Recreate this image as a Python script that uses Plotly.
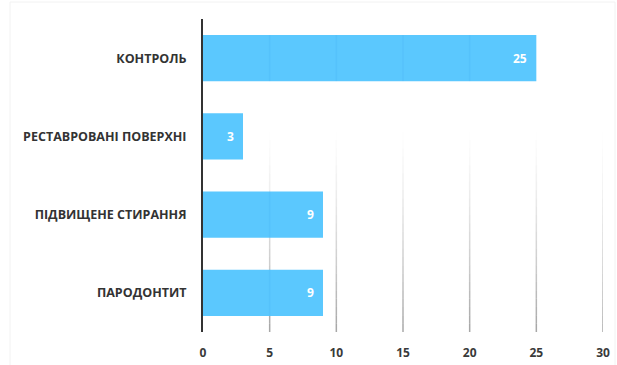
import plotly.graph_objects as go

# Chart data
categories = ["КОНТРОЛЬ", "РЕСТАВРОВАНІ ПОВЕРХНІ", "ПІДВИЩЕНЕ СТИРАННЯ", "ПАРОДОНТИТ"]
values = [25, 3, 9, 9]
x_ticks = [0, 5, 10, 15, 20, 25, 30]

BAR_COLOR = "#5BC8FE"
BAR_GAP = 0.41

fig = go.Figure()
fig.add_trace(go.Bar(
    y=categories,
    x=values,
    orientation="h",
    marker=dict(color=BAR_COLOR, line=dict(width=0)),
    hoverinfo="skip",
))

# Value labels at the inner end of each bar
annotations = []
for cat, v in zip(categories, values):
    annotations.append(dict(
        x=v, y=cat, xref="x", yref="y",
        text=f"<b>{v}</b>", showarrow=False,
        xanchor="right", xshift=-7,
        font=dict(family="Open Sans", size=12, color="white"),
    ))

# Vertical gridlines that fade out toward the top
shapes = []
n_seg = 24
fade_top = 0.64  # fraction of plot height where the lines vanish
for t in x_ticks[1:]:
    for i in range(n_seg):
        y0 = fade_top * i / n_seg
        y1 = fade_top * (i + 1) / n_seg
        a = 0.6 * (1 - i / n_seg) ** 1.4
        shapes.append(dict(
            type="line", xref="x", yref="paper",
            x0=t, x1=t, y0=y0, y1=y1,
            line=dict(color=f"rgba(110,110,110,{a:.3f})", width=1.5),
            layer="below",
        ))

# Subtle gridline traces showing through the bars
half = (1 - BAR_GAP) / 2
n_cat = len(categories)
for idx, v in enumerate(values):
    pos = n_cat - 1 - idx  # position on the reversed category axis
    for t in x_ticks[1:]:
        if t < v:
            shapes.append(dict(
                type="line", xref="x", yref="y",
                x0=t, x1=t, y0=pos - half, y1=pos + half,
                line=dict(color="rgba(0,110,200,0.06)", width=1.5),
                layer="above",
            ))

# Light frame around the figure
shapes.append(dict(
    type="rect", xref="paper", yref="paper",
    x0=-193 / 400, x1=1.03, y0=-0.2, y1=1 + 17 / 313,
    line=dict(color="#f2f2f2", width=1), fillcolor="rgba(0,0,0,0)",
    layer="below",
))

fig.update_layout(
    width=617, height=365,
    margin=dict(l=203, r=14, t=19, b=33),
    paper_bgcolor="white",
    plot_bgcolor="white",
    showlegend=False,
    bargap=BAR_GAP,
    annotations=annotations,
    shapes=shapes,
    xaxis=dict(
        range=[0, 30],
        tickvals=x_ticks,
        showgrid=False,
        zeroline=False,
        showline=False,
        ticks="",
        automargin=False,
        ticklabelstandoff=12,
        tickfont=dict(family="Open Sans", size=12, color="#3a3a3a", weight="bold"),
        fixedrange=True,
    ),
    yaxis=dict(
        categoryorder="array",
        categoryarray=categories[::-1],
        showgrid=False,
        zeroline=False,
        showline=True,
        linecolor="#333333",
        linewidth=2,
        ticks="",
        automargin=False,
        ticklabelstandoff=12,
        tickfont=dict(family="Open Sans", size=12.5, color="#333333", weight="bold"),
        fixedrange=True,
    ),
)

fig.write_html("out.html")
